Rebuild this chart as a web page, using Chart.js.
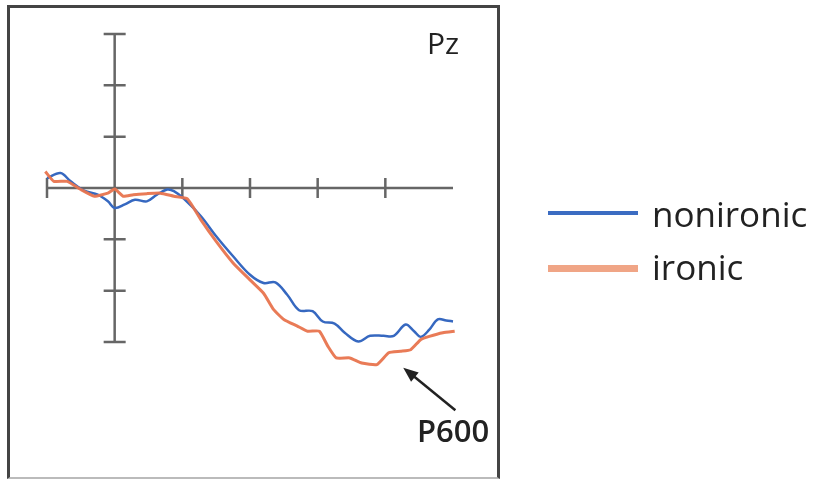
<!DOCTYPE html>
<html>
<head>
<meta charset="utf-8">
<script src="https://cdn.jsdelivr.net/npm/chart.js@4/dist/chart.umd.min.js"></script>
<style>
  html, body { margin: 0; padding: 0; background: #fff; overflow: hidden; }
  #wrap { position: relative; width: 817px; height: 479px; }
  #c { position: absolute; left: 0; top: 0; }
  .t { position: absolute; font-family: "Open Sans", sans-serif; color: #222; white-space: nowrap; line-height: 1; }
  #frame { position: absolute; left: 7px; top: 5px; width: 487px; height: 469px;
           border-left: 3px solid #444; border-top: 3px solid #444; border-right: 3px solid #444; border-bottom: 2px solid #bbb; }
  .lg { position: absolute; }
</style>
</head>
<body>
<div id="wrap">
  <canvas id="c" width="817" height="479"></canvas>
  <div id="frame"></div>
  <div class="t" style="left:427px; top:28px; font-size:30px;">Pz</div>
  <div class="t" style="left:417px; top:415px; font-size:31px; font-weight:600;">P600</div>
  <div class="lg" style="left:548px; top:211px; width:90px; height:4px; background:#3b6cc2;"></div>
  <div class="t" style="left:652px; top:196px; font-size:35px;">nonironic</div>
  <div class="lg" style="left:548px; top:265px; width:90px; height:7px; background:#f0a586;"></div>
  <div class="t" style="left:652px; top:249px; font-size:35px;">ironic</div>
</div>
<script>
// time (ms) and amplitude (µV, positive plotted downward)
const timesNonironic = [-200,-160,-130,-90,-50,-20,0,30,60,95,125,155,175,205,255,300,350,400,440,475,510,545,585,615,650,680,720,755,795,825,860,885,905,930,955,980,1000];
const nonironic = [-0.19,-0.29,-0.13,0.05,0.13,0.26,0.39,0.32,0.23,0.26,0.13,0.03,0.06,0.21,0.55,0.94,1.33,1.69,1.85,1.84,2.08,2.38,2.40,2.60,2.64,2.82,2.99,2.88,2.88,2.88,2.66,2.79,2.90,2.76,2.56,2.58,2.60];
const timesIronic = [-205,-180,-140,-100,-60,-20,0,25,55,95,135,175,215,255,300,350,400,440,470,500,540,570,605,630,655,695,730,775,810,845,875,905,930,970,1005];
const ironic = [-0.32,-0.13,-0.13,0.03,0.16,0.10,0.02,0.16,0.13,0.11,0.10,0.16,0.21,0.62,1.04,1.46,1.79,2.05,2.37,2.56,2.69,2.79,2.79,3.08,3.31,3.31,3.41,3.44,3.21,3.18,3.15,2.95,2.89,2.82,2.79];
const xTicks = [-200,0,200,400,600,800];
const yTicks = [-3,-2,-1,1,2,3];
const xRange = [-200,1000];
const yRange = [-3,5];
const arrowTip = {x: 853, y: 3.5};
const arrowTail = {x: 1007, y: 4.33};

const toPts = (xs, ys) => xs.map((x, i) => ({x, y: ys[i]}));

const axesPlugin = {
  id: 'erpAxes',
  beforeDatasetsDraw(chart) {
    const {ctx, scales: {x, y}} = chart;
    ctx.save();
    ctx.strokeStyle = '#666';
    ctx.lineWidth = 2.5;
    const x0 = x.getPixelForValue(0), y0 = y.getPixelForValue(0);
    ctx.beginPath();
    ctx.moveTo(x0, y.getPixelForValue(yTicks[0]));
    ctx.lineTo(x0, y.getPixelForValue(yTicks[yTicks.length - 1]));
    yTicks.forEach(v => { const py = y.getPixelForValue(v); ctx.moveTo(x0 - 11, py); ctx.lineTo(x0 + 11, py); });
    ctx.moveTo(x.getPixelForValue(xRange[0]), y0);
    ctx.lineTo(x.getPixelForValue(xRange[1]), y0);
    xTicks.forEach(v => { const px = x.getPixelForValue(v); ctx.moveTo(px, y0 - 10); ctx.lineTo(px, y0 + 10); });
    ctx.stroke();
    ctx.restore();
  },
  afterDatasetsDraw(chart) {
    const {ctx, scales: {x, y}} = chart;
    const tx = x.getPixelForValue(arrowTip.x), ty = y.getPixelForValue(arrowTip.y);
    const sx = x.getPixelForValue(arrowTail.x), sy = y.getPixelForValue(arrowTail.y);
    const a = Math.atan2(ty - sy, tx - sx);
    ctx.save();
    ctx.strokeStyle = '#222'; ctx.fillStyle = '#222'; ctx.lineWidth = 2.5;
    ctx.beginPath();
    ctx.moveTo(sx, sy);
    ctx.lineTo(tx - 10 * Math.cos(a), ty - 10 * Math.sin(a));
    ctx.stroke();
    ctx.beginPath();
    ctx.moveTo(tx, ty);
    ctx.lineTo(tx - 15 * Math.cos(a) + 6 * Math.sin(a), ty - 15 * Math.sin(a) - 6 * Math.cos(a));
    ctx.lineTo(tx - 15 * Math.cos(a) - 6 * Math.sin(a), ty - 15 * Math.sin(a) + 6 * Math.cos(a));
    ctx.closePath();
    ctx.fill();
    ctx.restore();
  }
};

new Chart(document.getElementById('c'), {
  type: 'line',
  data: {
    datasets: [
      { label: 'ironic', data: toPts(timesIronic, ironic), borderColor: 'rgba(232,116,78,0.95)', borderWidth: 3, pointRadius: 0, tension: 0.15, clip: false, fill: false },
      { label: 'nonironic', data: toPts(timesNonironic, nonironic), borderColor: '#3668c0', borderWidth: 2.5, pointRadius: 0, tension: 0.35, clip: false, fill: false }
    ]
  },
  options: {
    responsive: false,
    animation: false,
    devicePixelRatio: 1,
    layout: { padding: { left: 47, right: 364, top: 34, bottom: 34.33 } },
    scales: {
      x: { type: 'linear', min: xRange[0], max: xRange[1], display: false },
      y: { type: 'linear', min: yRange[0], max: yRange[1], reverse: true, display: false }
    },
    plugins: { legend: { display: false }, tooltip: { enabled: false } }
  },
  plugins: [axesPlugin]
});
</script>
</body>
</html>
